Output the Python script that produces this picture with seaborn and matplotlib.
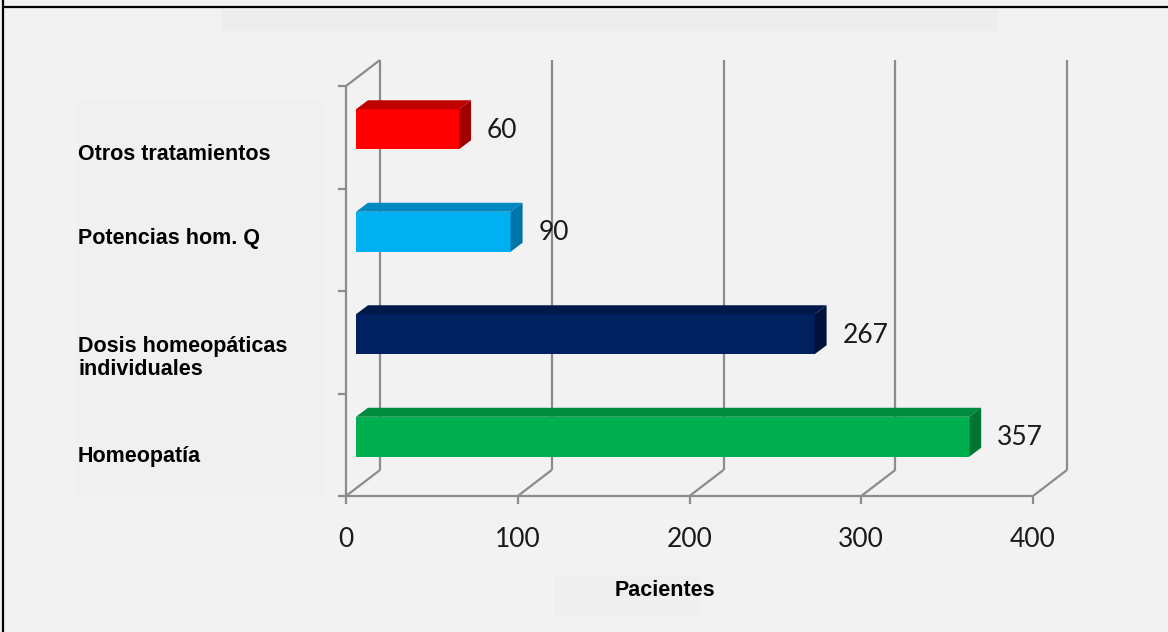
"""Pacientes por tipo de tratamiento (barras horizontales con efecto 3D)"""

import matplotlib
matplotlib.use("Agg")
import matplotlib.pyplot as plt
import matplotlib.transforms as mtransforms
from matplotlib.patches import Polygon, Rectangle
import pandas as pd
import seaborn as sns

categories = ["Otros tratamientos", "Potencias hom. Q",
              "Dosis homeopáticas\nindividuales", "Homeopatía"]
pacientes = [60, 90, 267, 357]
front_colors = ["#ff0000", "#00b0f0", "#002060", "#00b050"]
top_colors = ["#c00000", "#0089c0", "#00184a", "#008a3e"]
side_colors = ["#a00000", "#0074a6", "#00123a", "#007533"]
x_ticks = [0, 100, 200, 300, 400]

BG = "#f2f2f2"
GRID = "#8c8c8c"
TXT = "#1a1a1a"
BAR_OFF = (10, 8)   # front face of bars vs. front plane (px)
DEPTH = (12, 9)     # bar depth (px)
WALL = (34, 26)     # back wall vs. front plane (px)
LABEL_DROP = [15, -4, 12, 9]  # px the category labels sit below the row centre

sns.set_theme(style="white")

fig = plt.figure(figsize=(11.68, 6.32), dpi=100, facecolor=BG)

# background panels and frame
fig.add_artist(Rectangle((222 / 1168, 602 / 632), 775 / 1168, 20 / 632, transform=fig.transFigure,
                         color="#ededed", zorder=0))
fig.add_artist(Rectangle((77 / 1168, 139 / 632), 246 / 1168, 391 / 632, transform=fig.transFigure,
                         color="#f0f0f0", zorder=0))
fig.add_artist(Rectangle((554 / 1168, 17 / 632), 144 / 1168, 40 / 632, transform=fig.transFigure,
                         color="#efefef", zorder=0))
fig.add_artist(plt.Line2D([3 / 1168, 1], [625 / 632, 625 / 632], transform=fig.transFigure, color="black", lw=1.6))
fig.add_artist(plt.Line2D([3 / 1168, 3 / 1168], [0, 1], transform=fig.transFigure, color="black", lw=1.6))

ax = fig.add_axes([346 / 1168, 136 / 632, 687 / 1168, 410 / 632])
ax.set_facecolor("none")

df = pd.DataFrame({"cat": categories, "val": pacientes})
sns.barplot(data=df, x="val", y="cat", hue="cat", palette=front_colors, legend=False,
            width=0.39, saturation=1, orient="h", ax=ax)

ax.set_xlim(0, 400)
ax.set_ylim(3.5, -0.5)
for s in ax.spines.values():
    s.set_visible(False)


def shifted(dx, dy):
    return mtransforms.offset_copy(ax.transData, fig=fig, x=dx, y=dy, units="dots")


# pixels per data unit
p0 = ax.transData.transform((0, 0))
sx = (ax.transData.transform((400, 0))[0] - p0[0]) / 400
sy = p0[1] - ax.transData.transform((0, 1))[1]

wdx, wdy = WALL[0] / sx, -WALL[1] / sy
ddx, ddy = DEPTH[0] / sx, -DEPTH[1] / sy

# walls and floor
line_kw = dict(color=GRID, lw=1.6, clip_on=False, zorder=0.5, solid_capstyle="butt")
wall_tr = shifted(*WALL)
for t in x_ticks:
    ax.plot([t, t], [-0.5, 3.5], transform=wall_tr, **line_kw)
    ax.plot([t, t + wdx], [3.5, 3.5 + wdy], **line_kw)
ax.plot([0, 0], [-0.5, 3.5], **line_kw)
ax.plot([0, wdx], [-0.5, -0.5 + wdy], **line_kw)
ax.plot([0, 400], [3.5, 3.5], **line_kw)

# bars: front, top and side faces
bar_tr = shifted(*BAR_OFF)
for i, patch in enumerate(ax.patches):
    patch.set_transform(bar_tr)
    patch.set_zorder(2)
    patch.set_linewidth(0)
    x0, x1 = patch.get_x(), patch.get_x() + patch.get_width()
    yt, yb = patch.get_y(), patch.get_y() + patch.get_height()
    ax.add_patch(Polygon([(x0, yt), (x1, yt), (x1 + ddx, yt + ddy), (x0 + ddx, yt + ddy)],
                         closed=True, facecolor=top_colors[i], lw=0, transform=bar_tr, zorder=2))
    ax.add_patch(Polygon([(x1, yt), (x1 + ddx, yt + ddy), (x1 + ddx, yb + ddy), (x1, yb)],
                         closed=True, facecolor=side_colors[i], lw=0, transform=bar_tr, zorder=2))
    ax.text(x1 + ddx, (yt + yb) / 2, str(pacientes[i]), transform=shifted(BAR_OFF[0] + 16, BAR_OFF[1] - 1),
            va="center", ha="left", fontsize=19, family="Lato", color=TXT)

# axes ticks
ax.set_xticks(x_ticks)
ax.set_xticklabels([str(t) for t in x_ticks], fontsize=19, family="Lato", color=TXT)
ax.tick_params(axis="x", direction="out", length=6, width=1.6, color=GRID, pad=16, bottom=True)

ax.set_yticks(range(len(categories)))
ax.set_yticklabels(categories, ha="left", fontsize=15.5, fontweight="bold", family="Liberation Sans",
                   color="black", linespacing=1.15)
ax.set_yticks([-0.5, 0.5, 1.5, 2.5, 3.5], minor=True)
ax.tick_params(axis="y", which="major", length=0, pad=(346 - 78) * 0.72)
ax.tick_params(axis="y", which="minor", direction="out", length=6, width=1.6, color=GRID, left=True)
for lab, drop in zip(ax.get_yticklabels(), LABEL_DROP):
    lab.set_transform(lab.get_transform() + mtransforms.ScaledTranslation(0, -drop / 100, fig.dpi_scale_trans))

ax.set_xlabel("Pacientes", fontsize=15.5, fontweight="bold", family="Liberation Sans", color="black")
ax.xaxis.set_label_coords((665 - 346) / 687, -(580 - 496) / 410)
ax.set_ylabel("")

fig.savefig("out.png", dpi=100, facecolor=BG)
